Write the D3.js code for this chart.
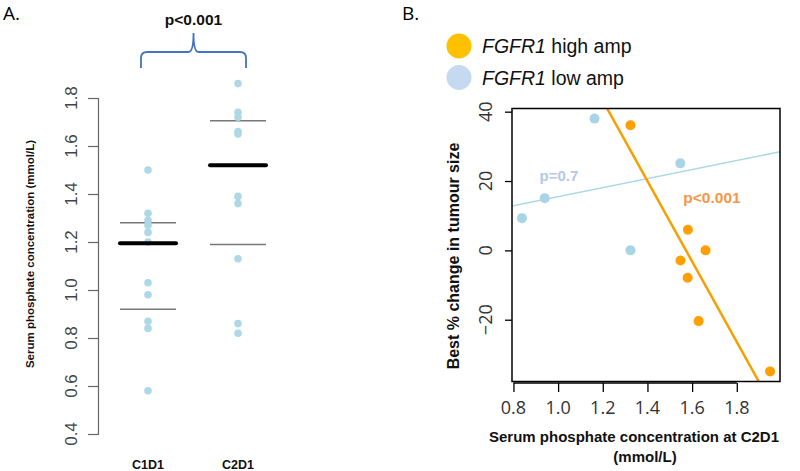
<!DOCTYPE html>
<html>
<head>
<meta charset="utf-8">
<script src="https://cdn.jsdelivr.net/npm/d3@7"></script>
<style>
  html, body { margin: 0; padding: 0; background: #fff; }
  svg { display: block; font-family: "Liberation Sans", Arial, sans-serif; }
</style>
</head>
<body>
<svg id="chart" width="800" height="471"></svg>
<script>
// ---------- Panel A data ----------
const catsA = ["C1D1", "C2D1"];
const c1d1Values = [1.50, 1.32, 1.29, 1.27, 1.24, 1.20, 1.03, 0.98, 0.87, 0.84, 0.58];
const c2d1Values = [1.86, 1.74, 1.72, 1.66, 1.65, 1.39, 1.36, 1.13, 0.86, 0.82];
const mediansA = [1.195, 1.52];
const upperQA = [1.28, 1.705];
const lowerQA = [0.92, 1.19];
const ticksA = [0.4, 0.6, 0.8, 1.0, 1.2, 1.4, 1.6, 1.8];
const pTextA = "p<0.001";

// ---------- Panel B data ----------
const highX = [1.324, 1.581, 1.66, 1.548, 1.58, 1.629, 1.949];
const highY = [36.1, 5.95, 0.0, -2.9, -7.9, -20.4, -34.9];
const lowX = [1.163, 1.547, 0.94, 0.838, 1.324];
const lowY = [38.0, 25.1, 15.06, 9.3, 0.0];
const fitHigh = { intercept: 182.4, slope: -116.0 };
const fitLow = { intercept: 2.46, slope: 13.04 };
const ticksBX = [0.8, 1.0, 1.2, 1.4, 1.6, 1.8];
const ticksBY = [-20, 0, 20, 40];
const legendLabels = [["FGFR1", " high amp"], ["FGFR1", " low amp"]];
const pTextHigh = "p<0.001";
const pTextLow = "p=0.7";

(function () {
const svg = d3.select("#chart");

// ================= Panel A =================
const yA = d3.scaleLinear().domain([0.4, 1.8]).range([434, 98]);
const xA = d3.scalePoint().domain(catsA).range([148, 238]);

svg.append("text").attr("x", 3).attr("y", 20).attr("font-size", 19)
  .attr("font-family", "'Open Sans', sans-serif").text("A.");

// y axis
const axA = svg.append("g").attr("transform", "translate(98,0)")
  .call(d3.axisLeft(yA).tickValues(ticksA).tickSize(10).tickFormat(""));
axA.select(".domain").attr("stroke", "#666").attr("stroke-width", 1.2);
axA.selectAll(".tick line").attr("stroke", "#666").attr("stroke-width", 1.2);
svg.append("g").selectAll("text").data(ticksA).join("text")
  .attr("transform", d => `translate(71,${yA(d)}) rotate(-90)`)
  .attr("text-anchor", "middle").attr("dominant-baseline", "central")
  .attr("font-size", 17).attr("fill", "#444")
  .text(d => d3.format(".1f")(d));

svg.append("text")
  .attr("transform", `translate(30,254) rotate(-90)`)
  .attr("text-anchor", "middle").attr("dominant-baseline", "central")
  .attr("font-size", 11.5).attr("font-weight", "bold").attr("fill", "#111")
  .text("Serum phosphate concentration (mmol/L)");

// category labels
svg.append("g").selectAll("text").data(catsA).join("text")
  .attr("x", d => xA(d)).attr("y", 469)
  .attr("text-anchor", "middle").attr("font-size", 12.5).attr("font-weight", "bold")
  .attr("fill", "#111").text(d => d);

// quartile lines
const halfW = 28;
catsA.forEach((c, i) => {
  [upperQA[i], lowerQA[i]].forEach(v => {
    svg.append("line").attr("x1", xA(c) - halfW).attr("x2", xA(c) + halfW)
      .attr("y1", yA(v)).attr("y2", yA(v)).attr("stroke", "#777").attr("stroke-width", 1.5);
  });
});

// points
const seriesA = [c1d1Values, c2d1Values];
catsA.forEach((c, i) => {
  svg.append("g").selectAll("circle").data(seriesA[i]).join("circle")
    .attr("cx", xA(c)).attr("cy", d => yA(d)).attr("r", 3.8).attr("fill", "#ADD8E6");
});

// medians
catsA.forEach((c, i) => {
  svg.append("line").attr("x1", xA(c) - halfW).attr("x2", xA(c) + halfW)
    .attr("y1", yA(mediansA[i])).attr("y2", yA(mediansA[i]))
    .attr("stroke", "#000").attr("stroke-width", 4).attr("stroke-linecap", "round");
});

// brace
const bL = xA(catsA[0]) - 7, bR = xA(catsA[1]) + 8, bM = (bL + bR) / 2;
const bBot = 68, bH = 52, bTip = 33;
svg.append("path")
  .attr("d", `M${bL},${bBot} L${bL},${bH + 6} Q${bL},${bH} ${bL + 6},${bH} L${bM - 5},${bH} Q${bM},${bH} ${bM},${bTip}
             Q${bM},${bH} ${bM + 5},${bH} L${bR - 6},${bH} Q${bR},${bH} ${bR},${bH + 6} L${bR},${bBot}`)
  .attr("fill", "none").attr("stroke", "#4472C4").attr("stroke-width", 1.8);

svg.append("text").attr("x", bM).attr("y", 25).attr("text-anchor", "middle")
  .attr("font-size", 15.5).attr("font-weight", "bold").attr("fill", "#111").text(pTextA);

// ================= Panel B =================
const allX = highX.concat(lowX), allY = highY.concat(lowY);
const xr = d3.extent(allX), yr = d3.extent(allY);
const padX = (xr[1] - xr[0]) * 0.04, padY = (yr[1] - yr[0]) * 0.04;
const pL = 512, pR = 780, pT = 108.5, pB = 381.5;
const xB = d3.scaleLinear().domain([xr[0] - padX, xr[1] + padX]).range([pL, pR]);
const yB = d3.scaleLinear().domain([yr[0] - padY, yr[1] + padY]).range([pB, pT]);

svg.append("text").attr("x", 402).attr("y", 20).attr("font-size", 19)
  .attr("font-family", "'Open Sans', sans-serif").text("B.");

// legend
const legColors = ["#FFC000", "#C5D9F1"];
legendLabels.forEach((lab, i) => {
  const cy = 46 + i * 31.5;
  svg.append("circle").attr("cx", 459).attr("cy", cy).attr("r", 12.5).attr("fill", legColors[i]);
  const t = svg.append("text").attr("x", 482).attr("y", cy).attr("dominant-baseline", "central")
    .attr("font-size", 19.5).attr("fill", "#111");
  t.append("tspan").attr("font-style", "italic").text(lab[0]);
  t.append("tspan").text(lab[1]);
});

// clip
svg.append("defs").append("clipPath").attr("id", "clipB")
  .append("rect").attr("x", pL).attr("y", pT).attr("width", pR - pL).attr("height", pB - pT);

// fit lines
const plotG = svg.append("g").attr("clip-path", "url(#clipB)");
const dom = xB.domain();
[[fitLow, "#ADD8E6", 1.6], [fitHigh, "#F5A000", 2.5]].forEach(([f, col, w]) => {
  plotG.append("line")
    .attr("x1", xB(dom[0])).attr("y1", yB(f.intercept + f.slope * dom[0]))
    .attr("x2", xB(dom[1])).attr("y2", yB(f.intercept + f.slope * dom[1]))
    .attr("stroke", col).attr("stroke-width", w);
});

// points
plotG.append("g").selectAll("circle").data(d3.range(lowX.length)).join("circle")
  .attr("cx", i => xB(lowX[i])).attr("cy", i => yB(lowY[i])).attr("r", 5).attr("fill", "#A8D5E5");
plotG.append("g").selectAll("circle").data(d3.range(highX.length)).join("circle")
  .attr("cx", i => xB(highX[i])).attr("cy", i => yB(highY[i])).attr("r", 5).attr("fill", "#FFA000");

// box
svg.append("rect").attr("x", pL).attr("y", pT).attr("width", pR - pL).attr("height", pB - pT)
  .attr("fill", "none").attr("stroke", "#000").attr("stroke-width", 1.5);

// axes
const axBX = svg.append("g").attr("transform", `translate(0,${pB + 1.5})`)
  .call(d3.axisBottom(xB).tickValues(ticksBX).tickSize(9).tickFormat(""));
axBX.select(".domain").remove();
axBX.selectAll(".tick line").attr("stroke", "#000").attr("stroke-width", 1.3);
svg.append("line").attr("x1", xB(ticksBX[0])).attr("x2", xB(ticksBX[ticksBX.length - 1]))
  .attr("y1", pB + 1.5).attr("y2", pB + 1.5).attr("stroke", "#000").attr("stroke-width", 1.3);
svg.append("g").selectAll("text").data(ticksBX).join("text")
  .attr("x", d => xB(d)).attr("y", 407).attr("text-anchor", "middle").attr("dominant-baseline", "central")
  .attr("font-size", 18).attr("fill", "#333").attr("font-family", "'Open Sans', sans-serif")
  .text(d => d3.format(".1f")(d));

const axBY = svg.append("g").attr("transform", `translate(${pL},0)`)
  .call(d3.axisLeft(yB).tickValues(ticksBY).tickSize(7).tickFormat(""));
axBY.select(".domain").remove();
axBY.selectAll(".tick line").attr("stroke", "#000").attr("stroke-width", 1.3);
svg.append("g").selectAll("text").data(ticksBY).join("text")
  .attr("transform", d => `translate(485,${yB(d)}) rotate(-90)`)
  .attr("text-anchor", "middle").attr("dominant-baseline", "central")
  .attr("font-size", 18).attr("fill", "#333").attr("font-family", "'Open Sans', sans-serif")
  .text(d => d3.format("d")(d));

// axis titles
svg.append("text").attr("transform", "translate(453,256) rotate(-90)")
  .attr("text-anchor", "middle").attr("dominant-baseline", "central")
  .attr("font-size", 16).attr("font-weight", "bold").attr("fill", "#111")
  .text("Best % change in tumour size");
svg.append("text").attr("x", 634).attr("y", 442).attr("text-anchor", "middle")
  .attr("font-size", 15).attr("font-weight", "bold").attr("fill", "#111")
  .text("Serum phosphate concentration at C2D1");
svg.append("text").attr("x", 645).attr("y", 462).attr("text-anchor", "middle")
  .attr("font-size", 15).attr("font-weight", "bold").attr("fill", "#111")
  .text("(mmol/L)");

// p-value labels
svg.append("text").attr("x", 559).attr("y", 175).attr("text-anchor", "middle").attr("dominant-baseline", "central")
  .attr("font-size", 15).attr("font-weight", "bold").attr("fill", "#B4C8E4").text(pTextLow);
svg.append("text").attr("x", 712).attr("y", 197).attr("text-anchor", "middle").attr("dominant-baseline", "central")
  .attr("font-size", 15.5).attr("font-weight", "bold").attr("fill", "#F79646").text(pTextHigh);
})();
</script>
</body>
</html>
